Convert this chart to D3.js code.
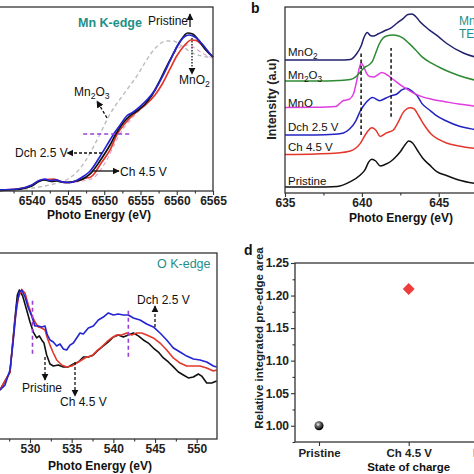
<!DOCTYPE html>
<html><head><meta charset="utf-8">
<script src="https://cdn.jsdelivr.net/npm/d3@7"></script>
<style>
html,body{margin:0;padding:0;background:#fff;overflow:hidden}
svg{display:block;font-family:"Liberation Sans",Arial,sans-serif}
</style></head><body>
<svg id="c" width="474" height="474"></svg>
<script>
// ---------- Panel a : Mn K-edge XANES ----------
const mnKTicks = [6540, 6545, 6550, 6555, 6560, 6565];
const mnKPristine = [[6535.6,0.004],[6538,0.013],[6540,0.043],[6541,0.082],[6541.8,0.095],[6542.7,0.082],[6543.5,0.086],[6544.5,0.073],[6545.5,0.077],[6546.5,0.090],[6547.5,0.120],[6548.3,0.163],[6549.4,0.258],[6550.8,0.396],[6551.6,0.490],[6552.6,0.585],[6553.5,0.645],[6554.5,0.688],[6555.5,0.740],[6556.5,0.817],[6557.5,0.929],[6558.5,1.058],[6559.5,1.178],[6560.5,1.290],[6561.5,1.359],[6562.2,1.351],[6563,1.299],[6564,1.213],[6565,1.153]];
const mnKDch = [[6535.6,0.009],[6538,0.017],[6540,0.052],[6541,0.090],[6541.8,0.103],[6542.5,0.090],[6543.3,0.095],[6544.3,0.077],[6545.3,0.073],[6546.3,0.095],[6547.2,0.129],[6548,0.168],[6549.4,0.295],[6550.8,0.439],[6551.3,0.490],[6552.2,0.568],[6553.1,0.645],[6554,0.680],[6555,0.731],[6556,0.791],[6557,0.869],[6558,0.981],[6559,1.110],[6560,1.239],[6561,1.325],[6561.7,1.342],[6562.5,1.325],[6563.5,1.265],[6564.5,1.187],[6565,1.153]];
const mnKCh = [[6535.6,0.009],[6538,0.017],[6540,0.047],[6541,0.086],[6542,0.099],[6543,0.103],[6543.8,0.086],[6544.8,0.073],[6545.8,0.082],[6546.8,0.095],[6547.5,0.112],[6548,0.116],[6548.7,0.155],[6549.4,0.224],[6550.8,0.353],[6551.8,0.490],[6552.8,0.576],[6553.8,0.645],[6554.8,0.697],[6555.8,0.748],[6557,0.826],[6558,0.920],[6559,1.041],[6560,1.161],[6561,1.247],[6562,1.299],[6562.6,1.295],[6563.5,1.256],[6564.5,1.187],[6565,1.153]];
const mnKMn2O3 = [[6538,0.009],[6541,0.034],[6543,0.060],[6545,0.103],[6546.5,0.181],[6547.5,0.267],[6548.5,0.378],[6549.5,0.499],[6550.5,0.628],[6551.5,0.731],[6552.5,0.817],[6553.5,0.903],[6554.5,0.989],[6555.5,1.092],[6556.5,1.187],[6557.5,1.256],[6558.5,1.290],[6559.5,1.290],[6560.5,1.256],[6561.5,1.213],[6562.5,1.178],[6563.5,1.161],[6565,1.144]];
const mnKMnO2 = [[6545,0.069],[6547,0.086],[6548.5,0.112],[6549.5,0.181],[6550.5,0.284],[6551.5,0.413],[6552.5,0.525],[6553.5,0.602],[6554.5,0.671],[6555.5,0.731],[6556.5,0.809],[6557.5,0.920],[6558.5,1.058],[6559.5,1.170],[6560.5,1.239],[6561.5,1.256],[6562.5,1.230],[6563.5,1.187],[6565,1.144]];
const mnKHalfEdge = {e0: 6547.1, e1: 6553.7, level: 0.49};

// ---------- Panel b : Mn L-edge TEY ----------
const lTicks = [635, 640, 645];
const lPristine = [[635,0.32],[637,0.32],[638.4,0.35],[639.25,0.61],[639.9,0.97],[640.2,1.24],[640.45,1.67],[640.65,1.81],[640.9,1.72],[641.2,1.45],[641.5,1.53],[641.85,1.68],[642.2,1.94],[642.5,2.22],[642.8,2.58],[643.05,2.80],[643.3,2.69],[643.6,2.31],[643.95,1.88],[644.4,1.51],[644.9,1.13],[645.5,0.94],[646.3,0.70],[647.3,0.52],[649,0.38]];
const lCh = [[635,2.07],[637,2.10],[638.4,2.15],[639.25,2.26],[639.9,2.67],[640.3,3.23],[640.65,3.51],[640.9,3.39],[641.2,3.04],[641.6,3.23],[642.05,3.39],[642.4,3.87],[642.7,4.35],[643.15,4.59],[643.4,4.52],[643.7,4.14],[644.1,3.60],[644.5,3.17],[645.0,2.88],[645.5,2.69],[646.3,2.53],[647.3,2.40],[649,2.28]];
const lDch = [[635,3.12],[637,3.12],[638.2,3.16],[638.8,3.23],[639.2,3.44],[639.6,3.87],[639.9,4.41],[640.3,4.89],[640.7,5.13],[641.15,4.96],[641.6,5.12],[641.9,5.22],[642.25,5.31],[642.6,5.54],[642.9,5.63],[643.3,5.45],[643.6,5.22],[643.9,4.82],[644.4,4.46],[644.8,4.19],[645.5,3.87],[646.3,3.60],[647.3,3.42],[649,3.28]];
const lMnO = [[635,4.60],[637,4.61],[638.3,4.65],[638.6,4.84],[638.8,4.97],[639.0,5.00],[639.2,5.05],[639.45,5.32],[639.65,5.97],[639.85,6.77],[639.95,6.99],[640.1,6.83],[640.3,6.45],[640.5,6.26],[640.8,6.24],[641.0,6.34],[641.3,6.48],[641.6,6.37],[642.0,6.13],[642.7,5.70],[643.3,5.40],[643.9,5.18],[644.6,5.03],[645.4,4.91],[646.3,4.78],[647.3,4.68],[649,4.62]];
const lMn2O3 = [[635,6.02],[637,6.02],[638.5,6.05],[639.25,6.10],[639.6,6.24],[639.9,6.51],[640.2,6.77],[640.45,6.88],[640.7,7.10],[640.9,7.53],[641.1,7.96],[641.35,8.31],[641.6,8.44],[642.0,8.49],[642.4,8.44],[642.7,8.31],[643.05,8.06],[643.5,7.69],[643.9,7.33],[644.5,6.99],[645.4,6.61],[646.3,6.32],[647.3,6.08],[649,5.91]];
const lMnO2 = [[635,7.15],[637,7.15],[638.5,7.15],[639.25,7.18],[639.65,7.47],[639.95,7.90],[640.15,8.39],[640.35,8.63],[640.55,8.47],[640.75,8.44],[641.05,8.55],[641.45,8.71],[641.85,8.85],[642.3,9.14],[642.7,9.39],[643.0,9.60],[643.25,9.62],[643.5,9.49],[643.8,9.19],[644.4,8.76],[645.0,8.39],[645.5,8.05],[646.6,7.53],[647.3,7.33],[649,7.15]];
const lGuides = [[639.95, 3.12, 7.59], [641.9, 4.10, 7.80]];

// ---------- Panel c : O K-edge ----------
const oTicks = [530, 535, 540, 545, 550];
const oPristine = [[526.4,0.316],[527.6,0.432],[528.2,0.781],[528.48,0.929],[528.72,0.961],[529.12,0.923],[529.6,0.832],[530.0,0.755],[530.4,0.690],[530.8,0.652],[531.12,0.665],[531.4,0.639],[531.68,0.619],[532.0,0.542],[532.4,0.484],[532.8,0.471],[533.4,0.477],[534.0,0.465],[534.6,0.465],[535.2,0.484],[535.8,0.497],[536.4,0.529],[537.0,0.529],[537.6,0.542],[538.2,0.574],[538.8,0.600],[539.4,0.626],[540.0,0.658],[540.6,0.671],[541.2,0.658],[541.8,0.671],[542.4,0.684],[543.0,0.665],[543.6,0.639],[544.2,0.619],[544.8,0.587],[545.4,0.561],[546.0,0.523],[546.6,0.497],[547.2,0.465],[547.8,0.432],[548.4,0.413],[549.0,0.394],[549.6,0.400],[550.2,0.419],[550.6,0.406],[551.2,0.361],[551.8,0.361],[552.4,0.374]];
const oCh = [[526.4,0.316],[527.6,0.432],[528.2,0.768],[528.6,0.910],[529.0,0.965],[529.4,0.942],[529.8,0.865],[530.2,0.800],[530.6,0.755],[531.0,0.723],[531.4,0.716],[531.8,0.703],[532.08,0.652],[532.4,0.606],[532.8,0.555],[533.2,0.510],[533.8,0.477],[534.4,0.465],[535.0,0.471],[535.6,0.490],[536.2,0.510],[536.8,0.529],[537.4,0.535],[538.0,0.568],[538.6,0.594],[539.2,0.626],[539.8,0.652],[540.4,0.671],[541.0,0.671],[541.6,0.684],[542.2,0.671],[542.8,0.684],[543.4,0.684],[544.0,0.671],[544.8,0.652],[545.6,0.619],[546.4,0.574],[547.2,0.523],[548.0,0.490],[548.8,0.471],[549.6,0.471],[550.4,0.471],[551.2,0.458],[552.0,0.439],[552.4,0.445]];
const oDch = [[526.4,0.316],[527.0,0.348],[527.6,0.445],[528.0,0.639],[528.4,0.865],[528.72,0.948],[529.0,0.961],[529.4,0.918],[529.8,0.845],[530.2,0.794],[530.6,0.729],[531.0,0.729],[531.4,0.723],[531.8,0.729],[532.08,0.671],[532.4,0.639],[532.8,0.626],[533.2,0.600],[533.6,0.613],[534.0,0.581],[534.4,0.574],[534.8,0.606],[535.2,0.619],[535.6,0.652],[536.0,0.684],[536.4,0.677],[537.0,0.716],[537.6,0.729],[538.2,0.768],[538.8,0.787],[539.4,0.813],[540.0,0.800],[540.6,0.806],[541.2,0.800],[541.8,0.800],[542.4,0.781],[543.2,0.768],[544.0,0.742],[544.8,0.723],[545.6,0.684],[546.4,0.639],[547.2,0.587],[548.0,0.561],[548.8,0.535],[549.6,0.516],[550.4,0.510],[551.2,0.497],[552.0,0.471],[552.4,0.465]];
const oGuides = [[530.3, 0.55, 0.90], [541.8, 0.53, 0.83]];

// ---------- Panel d : pre-edge area ----------
const states = ["Pristine", "Ch 4.5 V", "Dch 2.5 V"];
const preEdge = [1.00, 1.21];
const dTicks = [1.00, 1.05, 1.10, 1.15, 1.20, 1.25];

// ================= drawing =================
const svg = d3.select("#c");
const TEAL = "#1e8f87", BLK = "#111", RED = "#e3372c", BLUE = "#2424d0";
const defs = svg.append("defs");
defs.append("marker").attr("id","ah").attr("viewBox","0 0 10 10").attr("refX",9).attr("refY",5)
  .attr("markerWidth",5.5).attr("markerHeight",5.5).attr("orient","auto")
  .append("path").attr("d","M0,0L10,5L0,10z").attr("fill","#111");
const rg = defs.append("radialGradient").attr("id","ball").attr("cx","40%").attr("cy","35%").attr("r","60%");
rg.append("stop").attr("offset","0%").attr("stop-color","#fff");
rg.append("stop").attr("offset","35%").attr("stop-color","#777");
rg.append("stop").attr("offset","100%").attr("stop-color","#000");

function frame(x0,y0,x1,y1){
  svg.append("rect").attr("x",x0).attr("y",y0).attr("width",x1-x0).attr("height",y1-y0)
    .attr("fill","none").attr("stroke","#333").attr("stroke-width",1.3);
}
function xAxis(scale, y, majors, minors, fs){
  const g = svg.append("g").attr("transform",`translate(0,${y})`);
  g.call(d3.axisBottom(scale).tickValues(minors).tickSize(2.5).tickFormat(""));
  g.selectAll("text").remove();
  const g2 = svg.append("g").attr("transform",`translate(0,${y})`);
  g2.call(d3.axisBottom(scale).tickValues(majors).tickSize(4).tickPadding(1.5).tickFormat(d3.format("d")));
  [g,g2].forEach(gg=>{
    gg.selectAll(".domain").remove();
    gg.selectAll("line").attr("stroke","#333").attr("stroke-width",1.1);
  });
  g2.selectAll("text").attr("font-size",fs||12).attr("font-weight","bold").attr("fill","#222")
    .attr("font-family","Liberation Sans, Arial, sans-serif");
  return g2;
}
function txt(x,y,s,o={}){
  return svg.append("text").attr("x",x).attr("y",y).text(s)
    .attr("font-size",o.fs||12).attr("font-weight",o.fw||"normal").attr("fill",o.fill||"#111")
    .attr("text-anchor",o.anchor||"start");
}
function subTxt(x,y,parts,o={}){
  const t = svg.append("text").attr("x",x).attr("y",y).attr("font-size",o.fs||12).attr("fill",o.fill||"#111")
    .attr("text-anchor",o.anchor||"start");
  let down=false;
  parts.forEach(p=>{
    const sub = /^\d$/.test(p);
    const ts = t.append("tspan").text(p);
    if(sub){ ts.attr("font-size",(o.fs||12)*0.72).attr("dy",3); down=true; }
    else if(down){ ts.attr("dy",-3); down=false; }
  });
  return t;
}
function arrow(x1,y1,x2,y2,dash){
  svg.append("line").attr("x1",x1).attr("y1",y1).attr("x2",x2).attr("y2",y2)
    .attr("stroke","#111").attr("stroke-width",1.3).attr("stroke-dasharray",dash||null)
    .attr("marker-end","url(#ah)");
}
function curve(data,x,y,color,w,dash){
  svg.append("path").datum(data)
    .attr("d", d3.line().x(d=>x(d[0])).y(d=>y(d[1])).curve(d3.curveMonotoneX))
    .attr("fill","none").attr("stroke",color).attr("stroke-width",w||1.6)
    .attr("stroke-dasharray",dash||null).attr("stroke-linejoin","round");
}

// ----- Panel a -----
{
  const x = d3.scaleLinear().domain([6540,6565]).range([31.7,213]);
  const y = d3.scaleLinear().domain([0,1.6]).range([191,5]);
  curve(mnKMn2O3,x,y,"#bdbdbd",1.4,"4,3");
  curve(mnKMnO2,x,y,"#e4a6c8",1.2,"4,3");
  curve(mnKCh,x,y,RED,1.7);
  curve(mnKPristine,x,y,BLK,1.7);
  curve(mnKDch,x,y,BLUE,1.7);
  svg.append("line").attr("x1",x(mnKHalfEdge.e0)).attr("x2",x(mnKHalfEdge.e1))
    .attr("y1",y(mnKHalfEdge.level)).attr("y2",y(mnKHalfEdge.level))
    .attr("stroke","#9a3fd6").attr("stroke-width",1.5).attr("stroke-dasharray","4,3");
  frame(-5,7,213,191);
  xAxis(x,191,mnKTicks,d3.range(6537.5,6565,5));
  txt(99,219,"Photo Energy (eV)",{fw:"bold",anchor:"middle",fs:12});
  txt(78,27,"Mn K-edge",{fw:"bold",fill:TEAL,fs:12.5});
  txt(148,25,"Pristine",{fs:12});
  arrow(190,27,190,14);
  arrow(192,38,192,74,"1.5,1.5");
  subTxt(179,84,["MnO","2"],{fs:12});
  subTxt(74,96,["Mn","2","O","3"],{fs:12});
  arrow(107,118,97,101,"3,2");
  txt(15,157,"Dch 2.5 V",{fs:12});
  arrow(102,153,67,153,"3,2");
  txt(120,176,"Ch 4.5 V",{fs:12});
  arrow(92,171,119,171);
}

// ----- Panel b -----
{
  const x = d3.scaleLinear().domain([635,650]).range([285,515.6]);
  const y = d3.scaleLinear().domain([0,10]).range([193,7]);
  const cols = [["#111",lPristine],[RED,lCh],["#2323c4",lDch],["#e03ce0",lMnO],["#2e8a33",lMn2O3],["#20206e",lMnO2]];
  cols.forEach(c=>curve(c[1],x,y,c[0],1.5));
  lGuides.forEach(g=>{
    svg.append("line").attr("x1",x(g[0])).attr("x2",x(g[0])).attr("y1",y(g[1])).attr("y2",y(g[2]))
      .attr("stroke","#111").attr("stroke-width",1.5).attr("stroke-dasharray","3.5,2.5");
  });
  frame(285,7,480,193);
  xAxis(x,193,lTicks,[637.5,642.5,647.5]);
  txt(401,222,"Photo Energy (eV)",{fw:"bold",anchor:"middle",fs:12});
  svg.append("text").attr("transform","translate(276,99) rotate(-90)").attr("text-anchor","middle")
    .attr("font-size",12.5).attr("font-weight","bold").attr("fill","#222").text("Intensity (a.u)");
  txt(251,13,"b",{fw:"bold",fs:14});
  subTxt(288,56,["MnO","2"],{fs:11.5});
  subTxt(288,79,["Mn","2","O","3"],{fs:11.5});
  txt(288,107,"MnO",{fs:11.5});
  txt(288,131,"Dch 2.5 V",{fs:11.5});
  txt(288,151,"Ch 4.5 V",{fs:11.5});
  txt(288,185,"Pristine",{fs:11.5});
  txt(459,25,"Mn L-edge",{fill:TEAL,fs:12});
  txt(459,38,"TEY",{fill:TEAL,fs:12});
}

// ----- Panel c -----
{
  const x = d3.scaleLinear().domain([530,550]).range([30,196.7]);
  const y = d3.scaleLinear().domain([0,1.2]).range([439,253]);
  const line = d3.line().x(d=>x(d[0])).y(d=>y(d[1]));
  [[BLK,oPristine],[RED,oCh],[BLUE,oDch]].forEach(c=>{
    svg.append("path").datum(c[1]).attr("d",line).attr("fill","none").attr("stroke",c[0]).attr("stroke-width",1.6).attr("stroke-linejoin","round");
  });
  oGuides.forEach(g=>{
    svg.append("line").attr("x1",x(g[0])).attr("x2",x(g[0])).attr("y1",y(g[1])).attr("y2",y(g[2]))
      .attr("stroke","#9a3fd6").attr("stroke-width",1.6).attr("stroke-dasharray","4,3");
  });
  frame(-5,253,217,439);
  xAxis(x,439,oTicks,[527.5,532.5,537.5,542.5,547.5]);
  txt(100,470,"Photo Energy (eV)",{fw:"bold",anchor:"middle",fs:12});
  txt(157,268,"O K-edge",{fill:TEAL,fs:12.5});
  txt(137,304,"Dch 2.5 V",{fs:12});
  arrow(155,327,155,306,"3,2");
  txt(22,392,"Pristine",{fs:12});
  arrow(45,357,45,380,"3,2");
  txt(60,406,"Ch 4.5 V",{fs:12});
  arrow(75,362,75,396,"3,2");
}

// ----- Panel d -----
{
  const x = d3.scalePoint().domain(states).range([319,498.4]);
  const y = d3.scaleLinear().domain([0.975,1.25]).range([442,263]);
  frame(295,263,480,442);
  const gy0 = svg.append("g").attr("transform","translate(295,0)");
  gy0.call(d3.axisLeft(y).tickValues([0.975,1.025,1.075,1.125,1.175,1.225]).tickSize(2.5).tickFormat(""));
  gy0.selectAll("text").remove();
  const gy = svg.append("g").attr("transform","translate(295,0)");
  gy.call(d3.axisLeft(y).tickValues(dTicks).tickSize(4).tickPadding(2).tickFormat(d3.format(".2f")));
  [gy0,gy].forEach(g=>{ g.selectAll(".domain").remove(); g.selectAll("line").attr("stroke","#333").attr("stroke-width",1.1); });
  gy.selectAll("text").attr("font-size",12).attr("font-weight","bold").attr("fill","#222");
  const gx = svg.append("g").attr("transform","translate(0,442)");
  gx.call(d3.axisBottom(x).tickSize(4).tickPadding(3));
  gx.selectAll(".domain").remove();
  gx.selectAll("line").attr("stroke","#333").attr("stroke-width",1.1);
  gx.selectAll("text").attr("font-size",11.5).attr("font-weight","bold").attr("fill","#222");
  txt(408.7,471,"State of charge",{fw:"bold",anchor:"middle",fs:11.5});
  svg.append("text").attr("transform","translate(263,338) rotate(-90)").attr("text-anchor","middle")
    .attr("font-size",11.5).attr("font-weight","bold").attr("fill","#222").text("Relative integrated pre-edge area");
  txt(244,255,"d",{fw:"bold",fs:14});
  svg.append("circle").attr("cx",x(states[0])).attr("cy",y(preEdge[0])).attr("r",4.5).attr("fill","url(#ball)");
  svg.append("path").attr("d",d3.symbol().type(d3.symbolDiamond2).size(90)())
    .attr("transform",`translate(${x(states[1])},${y(preEdge[1])})`).attr("fill","#ee3b3b");
}
</script></body></html>
